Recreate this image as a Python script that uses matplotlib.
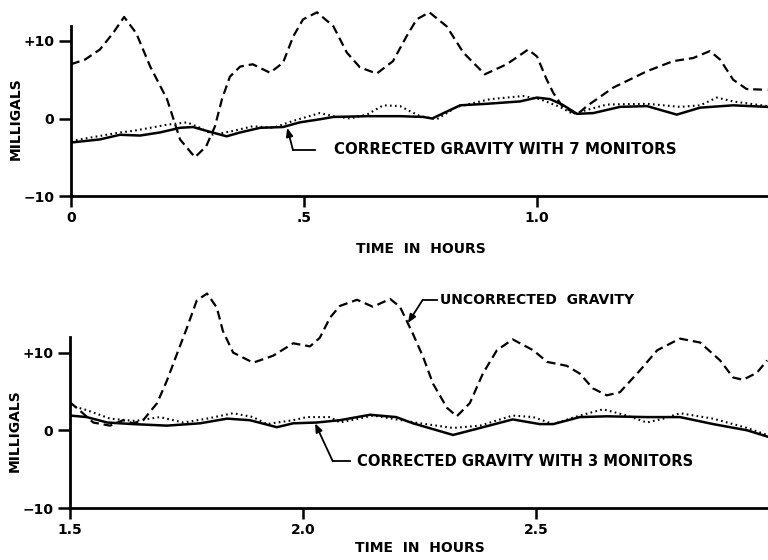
import matplotlib
matplotlib.use("Agg")
from matplotlib import pyplot as plt

plt.rcParams['font.family'] = ['DejaVu Sans']
plt.rcParams['font.weight'] = 'bold'

# ---- top panel: 0 to 1.5 hours, 7 monitors ----
t1_unc = [0, 0.03, 0.062, 0.09, 0.114, 0.14, 0.17, 0.206, 0.22, 0.234, 0.266, 0.29,
          0.309, 0.324, 0.341, 0.363, 0.39, 0.427, 0.455, 0.477, 0.498, 0.528, 0.563,
          0.592, 0.62, 0.656, 0.691, 0.72, 0.742, 0.769, 0.806, 0.842, 0.888, 0.935,
          0.981, 1.0, 1.021, 1.035, 1.054, 1.086, 1.107, 1.164, 1.236, 1.292, 1.335,
          1.371, 1.393, 1.421, 1.45, 1.494]
g1_unc = [7.0, 7.6, 8.9, 11.0, 13.1, 11.0, 6.7, 2.5, -0.1, -2.7, -5.0, -3.6,
          -1.0, 2.5, 5.4, 6.7, 7.0, 5.9, 7.2, 10.6, 12.8, 13.7, 11.9,
          8.5, 6.6, 5.8, 7.4, 10.6, 12.8, 13.7, 11.9, 8.5, 5.7, 7.0,
          8.9, 8.0, 5.0, 3.3, 1.6, 0.5, 1.6, 4.0, 6.1, 7.4, 7.8,
          8.7, 7.6, 5.0, 3.8, 3.7]

t1_cor = [0, 0.062, 0.105, 0.148, 0.191, 0.234, 0.262, 0.291, 0.334, 0.363, 0.406,
          0.455, 0.491, 0.534, 0.563, 0.635, 0.706, 0.756, 0.775, 0.835, 0.893, 0.963,
          1.0, 1.028, 1.054, 1.086, 1.121, 1.178, 1.236, 1.30, 1.35, 1.421, 1.494]
g1_cor = [-3.1, -2.7, -2.1, -2.2, -1.8, -1.2, -1.1, -1.6, -2.3, -1.8, -1.2,
          -1.1, -0.5, -0.1, 0.2, 0.3, 0.3, 0.2, 0.0, 1.7, 1.9, 2.2,
          2.7, 2.5, 1.8, 0.6, 0.7, 1.5, 1.6, 0.5, 1.4, 1.7, 1.5]

t1_ref = [0, 0.105, 0.133, 0.17, 0.206, 0.249, 0.277, 0.305, 0.348, 0.39, 0.434,
          0.477, 0.534, 0.563, 0.599, 0.635, 0.67, 0.706, 0.749, 0.785, 0.828, 0.9,
          0.97, 1.006, 1.049, 1.077, 1.107, 1.15, 1.236, 1.307, 1.35, 1.386, 1.421, 1.494]
g1_ref = [-2.9, -1.8, -1.6, -1.2, -0.8, -0.5, -1.2, -2.1, -1.6, -1.0, -1.2,
          -0.3, 0.7, 0.3, 0.0, 0.5, 1.7, 1.6, 0.3, -0.1, 1.5, 2.5,
          2.9, 2.5, 1.5, 0.6, 1.1, 1.8, 1.9, 1.5, 1.7, 2.7, 2.2, 1.6]

# ---- bottom panel: 1.5 to 3.0 hours, 3 monitors ----
t2_unc = [1.5, 1.52, 1.55, 1.586, 1.614, 1.635, 1.657, 1.687, 1.708, 1.73, 1.751,
          1.772, 1.794, 1.815, 1.828, 1.85, 1.893, 1.936, 1.979, 2.015, 2.036, 2.058,
          2.079, 2.116, 2.15, 2.187, 2.208, 2.236, 2.258, 2.279, 2.309, 2.33, 2.358,
          2.386, 2.416, 2.45, 2.494, 2.524, 2.566, 2.594, 2.622, 2.652, 2.68, 2.723,
          2.76, 2.809, 2.852, 2.895, 2.923, 2.944, 2.974, 2.996]
g2_unc = [3.6, 2.6, 1.0, 0.6, 1.3, 0.9, 1.3, 3.5, 6.4, 9.9, 13.2,
          16.7, 17.6, 15.8, 12.8, 10.0, 8.7, 9.6, 11.2, 10.8, 11.9, 14.5,
          16.0, 16.8, 15.9, 16.9, 15.9, 12.4, 9.4, 6.0, 2.9, 1.8, 3.5,
          7.3, 10.3, 11.7, 10.3, 8.8, 8.3, 7.3, 5.4, 4.5, 4.9, 7.7,
          10.3, 11.8, 11.3, 9.0, 6.8, 6.5, 7.4, 9.0]

t2_cor = [1.5, 1.536, 1.58, 1.635, 1.708, 1.779, 1.837, 1.886, 1.944, 1.979, 2.029,
          2.079, 2.144, 2.2, 2.236, 2.322, 2.38, 2.45, 2.508, 2.537, 2.594, 2.652,
          2.738, 2.809, 2.88, 2.953, 2.996]
g2_cor = [1.9, 1.7, 1.0, 0.8, 0.6, 0.9, 1.5, 1.3, 0.4, 0.9, 1.0,
          1.3, 2.0, 1.7, 0.9, -0.6, 0.3, 1.4, 0.8, 0.8, 1.7, 1.8,
          1.7, 1.7, 0.8, 0.0, -0.8]

t2_ref = [1.5, 1.536, 1.586, 1.64, 1.693, 1.743, 1.794, 1.85, 1.893, 1.922, 1.979,
          2.008, 2.058, 2.079, 2.15, 2.251, 2.322, 2.38, 2.45, 2.494, 2.537, 2.594,
          2.644, 2.695, 2.738, 2.773, 2.809, 2.88, 2.953, 2.996]
g2_ref = [3.2, 2.6, 1.5, 1.2, 1.7, 1.0, 1.5, 2.2, 1.7, 0.8, 1.3,
          1.7, 1.7, 1.0, 1.9, 0.9, 0.3, 0.6, 1.9, 1.7, 0.8, 1.9,
          2.7, 1.9, 1.0, 1.5, 2.2, 1.5, 0.3, -0.6]

yticks = [-10, 0, 10]
ytick_labels = ["\u221210", "0", "+10"]

fig = plt.figure(figsize=(7.68, 5.6), dpi=100)
ax1 = fig.add_axes([71/768, 0.65, 699/768, 25*7.75/560])
ax2 = fig.add_axes([70/768, 52/560, 699/768, 28.5*7.77/560])

dash = (0, (4, 2.2))
dots = (0, (0.8, 1.6))


def style_axes(ax, xlim, ylim, xt, xtl):
    ax.set_xlim(*xlim)
    ax.set_ylim(*ylim)
    for s in ['top', 'right']:
        ax.spines[s].set_visible(False)
    ax.spines['left'].set_bounds(-10, 12)
    ax.spines['left'].set_linewidth(2)
    ax.spines['bottom'].set_linewidth(2)
    ax.spines['bottom'].set_position(('data', -10))
    ax.set_xticks(xt)
    ax.set_xticklabels(xtl)
    ax.set_yticks(yticks)
    ax.set_yticklabels(ytick_labels)
    ax.tick_params(direction='out', length=8, width=1.8, labelsize=10, pad=3)
    ax.tick_params(axis='y', length=9)
    for lab in ax.get_xticklabels() + ax.get_yticklabels():
        lab.set_fontweight('bold')
    ax.text(-0.079, 0, "MILLIGALS", transform=ax.get_yaxis_transform(),
            rotation=90, ha='center', va='center', fontsize=10, fontweight='bold')


ax1.plot(t1_unc, g1_unc, color='black', lw=1.6, linestyle=dash)
ax1.plot(t1_ref, g1_ref, color='black', lw=1.5, linestyle=dots)
ax1.plot(t1_cor, g1_cor, color='black', lw=1.8)
style_axes(ax1, (0, 1.5), (-10, 15), [0, 0.5, 1.0], ["0", ".5", "1.0"])
ax1.set_xlabel("TIME  IN  HOURS", fontsize=10, fontweight='bold', labelpad=12)

ax2.plot(t2_unc, g2_unc, color='black', lw=1.6, linestyle=dash)
ax2.plot(t2_ref, g2_ref, color='black', lw=1.5, linestyle=dots)
ax2.plot(t2_cor, g2_cor, color='black', lw=1.8)
style_axes(ax2, (1.5, 3.0), (-10, 18.5), [1.5, 2.0, 2.5, 3.0], ["1.5", "2.0", "2.5", ""])
ax2.set_xlabel("TIME  IN  HOURS", fontsize=10, fontweight='bold', labelpad=3)

# annotations
arrow = dict(arrowstyle='-|>,head_length=0.5,head_width=0.2', color='black', lw=1.3,
             shrinkA=0, shrinkB=0)

ax1.plot([0.476, 0.524], [-4.0, -4.0], color='black', lw=1.3)
ax1.annotate("", xy=(0.464, -1.2), xytext=(0.476, -4.0), arrowprops=arrow)
ax1.text(0.564, -4.0, "CORRECTED GRAVITY WITH 7 MONITORS", fontsize=10.8,
         fontweight='bold', ha='left', va='center')

ax2.plot([2.064, 2.101], [-4.0, -4.0], color='black', lw=1.3)
ax2.annotate("", xy=(2.026, 0.9), xytext=(2.064, -4.0), arrowprops=arrow)
ax2.text(2.116, -4.0, "CORRECTED GRAVITY WITH 3 MONITORS", fontsize=10.6,
         fontweight='bold', ha='left', va='center')

ax2.plot([2.257, 2.288], [16.8, 16.8], color='black', lw=1.3)
ax2.annotate("", xy=(2.225, 13.8), xytext=(2.257, 16.8), arrowprops=arrow)
ax2.text(2.294, 16.8, "UNCORRECTED  GRAVITY", fontsize=10,
         fontweight='bold', ha='left', va='center')

fig.savefig("out.png", dpi=100)
